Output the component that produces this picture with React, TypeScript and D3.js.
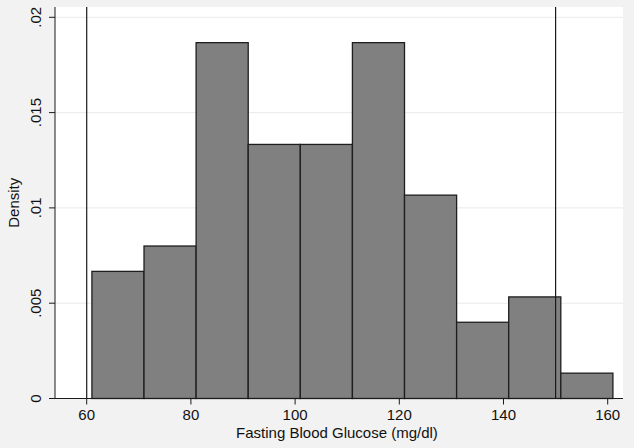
import React from "react";
import * as d3 from "d3";

const binStarts = [61, 71, 81, 91, 101, 111, 121, 131, 141, 151];
const binWidth = 10;
const densities = [0.00667, 0.008, 0.01867, 0.01333, 0.01333, 0.01867, 0.01067, 0.004, 0.00533, 0.00133];
const xTicks = [60, 80, 100, 120, 140, 160];
const yTicks = [0, 0.005, 0.01, 0.015, 0.02];
const yTickLabels = ["0", ".005", ".01", ".015", ".02"];
const refLines = [60, 150];

export default function App() {
  const W = 634, H = 448;
  const left = 55, right = 623, top = 7, bottom = 398.5;
  const x = d3.scaleLinear().domain([60, 160]).range([86.7, 607.7]);
  const y = d3.scaleLinear().domain([0, 0.02]).range([bottom, 17.3]);
  const font = "Liberation Sans, Arial, Helvetica, sans-serif";
  return (
    <svg width={W} height={H} style={{ position: "absolute", left: 0, top: 0 }}>
      <rect x={0} y={0} width={W} height={H} fill="#f2f2f2" />
      <rect x={left} y={top} width={right - left} height={bottom - top} fill="#ffffff" />
      {yTicks.slice(1).map((t) => (
        <line key={t} x1={left} x2={right} y1={y(t)} y2={y(t)} stroke="#eaeaea" strokeWidth={1} />
      ))}
      {binStarts.map((b, i) => (
        <rect
          key={b}
          x={x(b)}
          y={y(densities[i])}
          width={x(b + binWidth) - x(b)}
          height={bottom - y(densities[i])}
          fill="#808080"
          stroke="#1e1e1e"
          strokeWidth={1.3}
        />
      ))}
      {refLines.map((v) => (
        <line key={v} x1={x(v)} x2={x(v)} y1={top} y2={bottom} stroke="#1a1a1a" strokeWidth={1.2} />
      ))}
      <line x1={left} x2={left} y1={top} y2={bottom} stroke="#1a1a1a" strokeWidth={1} />
      <line x1={left} x2={right} y1={bottom} y2={bottom} stroke="#1a1a1a" strokeWidth={1} />
      {yTicks.map((t, i) => (
        <g key={t}>
          <line x1={left - 6} x2={left} y1={y(t)} y2={y(t)} stroke="#1a1a1a" strokeWidth={1} />
          <text
            transform={`translate(${left - 14},${y(t)}) rotate(-90)`}
            textAnchor="middle"
            fontFamily={font}
            fontSize={15}
            fill="#111"
          >
            {yTickLabels[i]}
          </text>
        </g>
      ))}
      {xTicks.map((t) => (
        <g key={t}>
          <line x1={x(t)} x2={x(t)} y1={bottom} y2={bottom + 6} stroke="#1a1a1a" strokeWidth={1} />
          <text x={x(t)} y={bottom + 21} textAnchor="middle" fontFamily={font} fontSize={15} fill="#111">
            {t}
          </text>
        </g>
      ))}
      <text x={(left + right) / 2 - 2} y={438} textAnchor="middle" fontFamily={font} fontSize={15} fill="#111">
        Fasting Blood Glucose (mg/dl)
      </text>
      <text
        transform={`translate(19,${(top + bottom) / 2}) rotate(-90)`}
        textAnchor="middle"
        fontFamily={font}
        fontSize={15}
        fill="#111"
      >
        Density
      </text>
    </svg>
  );
}
